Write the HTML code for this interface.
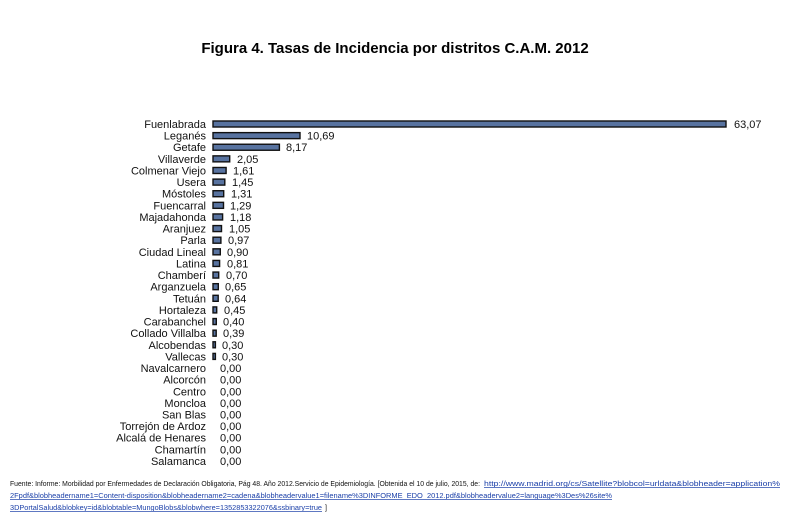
<!DOCTYPE html>
<html><head><meta charset="utf-8"><style>
html,body{margin:0;padding:0;background:#fff;}
svg{display:block;}
.l{font-family:"Liberation Sans",sans-serif;font-size:11px;fill:#111;text-anchor:end;}
.v{font-family:"Liberation Sans",sans-serif;font-size:11px;fill:#111;}
.b{fill:#5873a0;stroke:#111;stroke-width:1.4;}
.f{font-family:"Liberation Sans",sans-serif;font-size:7px;fill:#111;}
.u{font-family:"Liberation Sans",sans-serif;font-size:7px;fill:#1a3fa8;text-decoration:underline;}
</style></head><body>
<svg width="800" height="518" viewBox="0 0 800 518" xmlns="http://www.w3.org/2000/svg">
<text x="395" y="53" text-anchor="middle" font-family="Liberation Sans, sans-serif" font-size="15" font-weight="bold" fill="#000">Figura  4. Tasas de Incidencia por distritos C.A.M. 2012</text>
<g transform="translate(0,124)"><rect class="b" x="213" y="-3" width="513" height="6"/><text class="l" x="206" y="4">Fuenlabrada</text><text class="v" x="734" y="4">63,07</text></g>
<g transform="translate(0,135.62)"><rect class="b" x="213" y="-3" width="87" height="6"/><text class="l" x="206" y="4">Leganés</text><text class="v" x="307" y="4">10,69</text></g>
<g transform="translate(0,147.24)"><rect class="b" x="213" y="-3" width="66.4" height="6"/><text class="l" x="206" y="4">Getafe</text><text class="v" x="286" y="4">8,17</text></g>
<g transform="translate(0,158.86)"><rect class="b" x="213" y="-3" width="16.7" height="6"/><text class="l" x="206" y="4">Villaverde</text><text class="v" x="237" y="4">2,05</text></g>
<g transform="translate(0,170.48)"><rect class="b" x="213" y="-3" width="13.1" height="6"/><text class="l" x="206" y="4">Colmenar Viejo</text><text class="v" x="233" y="4">1,61</text></g>
<g transform="translate(0,182.1)"><rect class="b" x="213" y="-3" width="11.8" height="6"/><text class="l" x="206" y="4">Usera</text><text class="v" x="232" y="4">1,45</text></g>
<g transform="translate(0,193.72)"><rect class="b" x="213" y="-3" width="10.7" height="6"/><text class="l" x="206" y="4">Móstoles</text><text class="v" x="231" y="4">1,31</text></g>
<g transform="translate(0,205.34)"><rect class="b" x="213" y="-3" width="10.5" height="6"/><text class="l" x="206" y="4">Fuencarral</text><text class="v" x="230" y="4">1,29</text></g>
<g transform="translate(0,216.96)"><rect class="b" x="213" y="-3" width="9.6" height="6"/><text class="l" x="206" y="4">Majadahonda</text><text class="v" x="230" y="4">1,18</text></g>
<g transform="translate(0,228.58)"><rect class="b" x="213" y="-3" width="8.5" height="6"/><text class="l" x="206" y="4">Aranjuez</text><text class="v" x="229" y="4">1,05</text></g>
<g transform="translate(0,240.2)"><rect class="b" x="213" y="-3" width="7.9" height="6"/><text class="l" x="206" y="4">Parla</text><text class="v" x="228" y="4">0,97</text></g>
<g transform="translate(0,251.82)"><rect class="b" x="213" y="-3" width="7.3" height="6"/><text class="l" x="206" y="4">Ciudad Lineal</text><text class="v" x="227" y="4">0,90</text></g>
<g transform="translate(0,263.44)"><rect class="b" x="213" y="-3" width="6.6" height="6"/><text class="l" x="206" y="4">Latina</text><text class="v" x="227" y="4">0,81</text></g>
<g transform="translate(0,275.06)"><rect class="b" x="213" y="-3" width="5.7" height="6"/><text class="l" x="206" y="4">Chamberí</text><text class="v" x="226" y="4">0,70</text></g>
<g transform="translate(0,286.68)"><rect class="b" x="213" y="-3" width="5.3" height="6"/><text class="l" x="206" y="4">Arganzuela</text><text class="v" x="225" y="4">0,65</text></g>
<g transform="translate(0,298.3)"><rect class="b" x="213" y="-3" width="5.2" height="6"/><text class="l" x="206" y="4">Tetuán</text><text class="v" x="225" y="4">0,64</text></g>
<g transform="translate(0,309.92)"><rect class="b" x="213" y="-3" width="3.7" height="6"/><text class="l" x="206" y="4">Hortaleza</text><text class="v" x="224" y="4">0,45</text></g>
<g transform="translate(0,321.54)"><rect class="b" x="213" y="-3" width="3.3" height="6"/><text class="l" x="206" y="4">Carabanchel</text><text class="v" x="223" y="4">0,40</text></g>
<g transform="translate(0,333.16)"><rect class="b" x="213" y="-3" width="3.2" height="6"/><text class="l" x="206" y="4">Collado Villalba</text><text class="v" x="223" y="4">0,39</text></g>
<g transform="translate(0,344.78)"><rect class="b" x="213" y="-3" width="2.4" height="6"/><text class="l" x="206" y="4">Alcobendas</text><text class="v" x="222" y="4">0,30</text></g>
<g transform="translate(0,356.4)"><rect class="b" x="213" y="-3" width="2.4" height="6"/><text class="l" x="206" y="4">Vallecas</text><text class="v" x="222" y="4">0,30</text></g>
<g transform="translate(0,368.02)"><text class="l" x="206" y="4">Navalcarnero</text><text class="v" x="220" y="4">0,00</text></g>
<g transform="translate(0,379.64)"><text class="l" x="206" y="4">Alcorcón</text><text class="v" x="220" y="4">0,00</text></g>
<g transform="translate(0,391.26)"><text class="l" x="206" y="4">Centro</text><text class="v" x="220" y="4">0,00</text></g>
<g transform="translate(0,402.88)"><text class="l" x="206" y="4">Moncloa</text><text class="v" x="220" y="4">0,00</text></g>
<g transform="translate(0,414.5)"><text class="l" x="206" y="4">San Blas</text><text class="v" x="220" y="4">0,00</text></g>
<g transform="translate(0,426.12)"><text class="l" x="206" y="4">Torrejón de Ardoz</text><text class="v" x="220" y="4">0,00</text></g>
<g transform="translate(0,437.74)"><text class="l" x="206" y="4">Alcalá de Henares</text><text class="v" x="220" y="4">0,00</text></g>
<g transform="translate(0,449.36)"><text class="l" x="206" y="4">Chamartín</text><text class="v" x="220" y="4">0,00</text></g>
<g transform="translate(0,460.98)"><text class="l" x="206" y="4">Salamanca</text><text class="v" x="220" y="4">0,00</text></g>
<text class="f" x="10" y="486" textLength="470" lengthAdjust="spacingAndGlyphs">Fuente: Informe: Morbilidad por Enfermedades de Declaración Obligatoria, Pág 48. Año 2012.Servicio de Epidemiología. [Obtenida el 10 de julio, 2015, de: </text>
<text class="u" x="484" y="486" textLength="296" lengthAdjust="spacingAndGlyphs">http://www.madrid.org/cs/Satellite?blobcol=urldata&amp;blobheader=application%</text>
<text class="u" x="10" y="498" textLength="602" lengthAdjust="spacingAndGlyphs">2Fpdf&amp;blobheadername1=Content-disposition&amp;blobheadername2=cadena&amp;blobheadervalue1=filename%3DINFORME_EDO_2012.pdf&amp;blobheadervalue2=language%3Des%26site%</text>
<text class="u" x="10" y="510" textLength="312" lengthAdjust="spacingAndGlyphs">3DPortalSalud&amp;blobkey=id&amp;blobtable=MungoBlobs&amp;blobwhere=1352853322076&amp;ssbinary=true</text>
<text class="f" x="325" y="510">]</text>
</svg>
</body></html>
